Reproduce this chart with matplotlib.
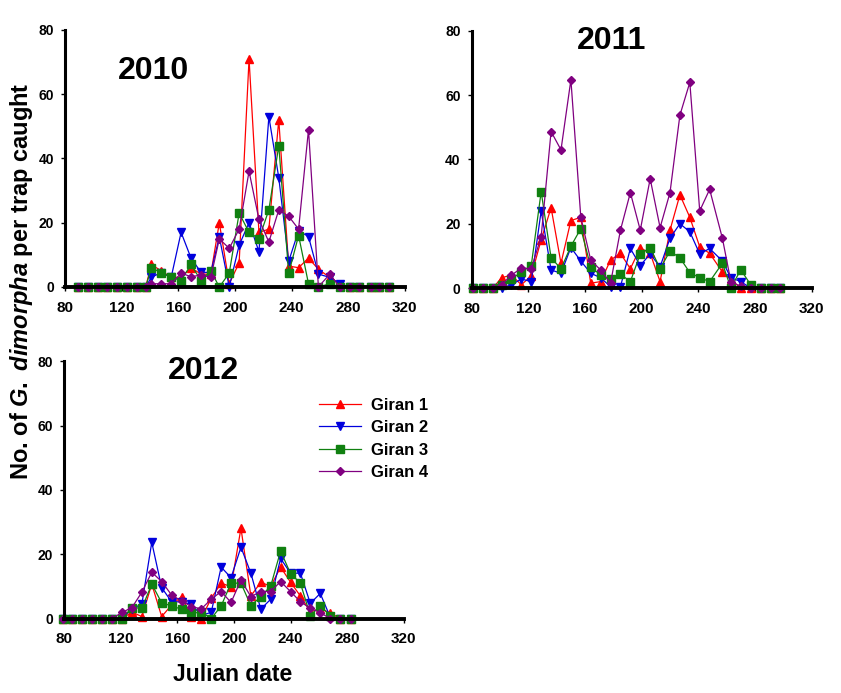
import matplotlib.pyplot as plt
from matplotlib.lines import Line2D

plt.rcParams['font.family'] = ['Liberation Sans', 'DejaVu Sans']
plt.rcParams['mathtext.fontset'] = 'custom'
plt.rcParams['mathtext.it'] = 'Liberation Sans:italic:bold'
plt.rcParams['mathtext.rm'] = 'Liberation Sans:bold'

series_names = ['Giran 1', 'Giran 2', 'Giran 3', 'Giran 4']
colors = ['#ff0000', '#0000dd', '#108010', '#800080']
markers = ['^', 'v', 's', 'D']

# 2010
d2010 = [89, 96, 103, 110, 117, 124, 131, 137, 141, 148, 155, 162, 169, 176, 183, 189,
         196, 203, 210, 217, 224, 231, 238, 245, 252, 259, 267, 274, 281, 288, 296, 302, 309]
g1_2010 = [0, 0, 0, 0, 0, 0, 0, 0, 7, 5, 3, 3, 6, 4, 4, 20,
           1, 7.5, 71, 17, 18, 52, 6.5, 6, 9, 5.5, 3, 1, 0, 0, 0, 0, 0]
g2_2010 = [0, 0, 0, 0, 0, 0, 0, 0, 3, 4.5, 3, 17, 9, 4.6, 4.5, 15.6,
           0, 13, 20, 11, 53, 34, 8, 17.5, 15.7, 4, 3, 1, 0, 0, 0, 0, 0]
g3_2010 = [0, 0, 0, 0, 0, 0, 0, 0, 6, 4.4, 3, 2, 7, 2, 5, 0,
           4.3, 23, 17, 15, 24, 44, 4.3, 16, 1, 0, 1, 0, 0, 0, 0, 0, 0]
g4_2010 = [0, 0, 0, 0, 0, 0, 0, 0, 1, 1, 1, 4.3, 3.2, 3.7, 3, 15,
           12, 18, 36, 21, 14, 24, 22, 18, 49, 0, 4, 0, 0, 0, 0, 0, 0]

# 2011
d2011 = [81, 88, 95, 101, 108, 115, 122, 129, 136, 143, 150, 157, 164, 171, 178, 185,
         192, 199, 206, 213, 220, 227, 234, 241, 248, 257, 263, 270, 277, 284, 291, 298]
g1_2011 = [0, 0, 0, 3.2, 4, 1, 3.8, 15, 25, 7.7, 21, 22, 1.5, 2, 8.7, 10.8,
           6, 12.5, 10.8, 2, 18, 29, 22, 12.8, 10.8, 5, 2.6, 0, 0, 0, 0, 0]
g2_2011 = [0, 0, 0, 0, 1, 2.8, 2, 24, 5.6, 4.6, 12.6, 8.4, 4.6, 3.2, 0.4, 0.4,
           12.3, 7, 10.6, 6.6, 15.5, 20, 17.5, 10.6, 12.3, 8.4, 3.2, 2, 0, 0, 0, 0]
g3_2011 = [0, 0, 0, 1, 2.8, 5, 7, 30, 9.4, 6, 13, 18.5, 6.6, 4, 2.7, 4.3,
           2, 10.6, 12.6, 6, 11.5, 9.4, 4.8, 3.2, 2, 7.7, 0, 5.7, 1, 0, 0, 0]
g4_2011 = [0, 0, 0, 1, 4, 6.2, 6, 16, 48.7, 43, 64.8, 22, 8.7, 5.6, 1.5, 18,
           29.7, 18, 34, 18.8, 29.7, 53.8, 64, 24, 30.7, 15.5, 2, 0.5, 0, 0, 0, 0]

# 2012
d2012 = [79, 86, 93, 100, 107, 114, 121, 128, 135, 142, 149, 156, 163, 170, 177, 184,
         191, 198, 205, 212, 219, 226, 233, 240, 247, 254, 261, 268, 275, 283]
g1_2012 = [0, 0, 0, 0, 0, 0, 0, 2, 0.6, 10.7, 0.6, 4.2, 6.8, 0.6, 0, 6.3,
           11, 9.9, 28.1, 7, 11.3, 10, 16, 11.3, 7, 2.1, 3, 1.8, 0, 0]
g2_2012 = [0, 0, 0, 0, 0, 0, 0, 3, 4.5, 23.7, 9.6, 5.2, 5.2, 4.4, 1, 1.9,
           16, 12.7, 22.2, 14.1, 2.9, 6, 18.7, 14.1, 14.1, 4.7, 7.8, 0.5, 0, 0]
g3_2012 = [0, 0, 0, 0, 0, 0, 0, 3.4, 3.2, 10.7, 4.9, 3.9, 2.9, 1.6, 2, 0,
           3.9, 11, 11, 4, 6.8, 10.1, 21, 14, 11, 0.9, 4, 0.9, 0, 0]
g4_2012 = [0, 0, 0, 0, 0, 0, 1.9, 3.4, 8.2, 14.4, 11.5, 7.3, 5.5, 3.7, 3, 6,
           8.4, 5, 12, 6.8, 8.4, 8.4, 11.5, 8.4, 5.2, 3.2, 1.8, 0, 0, 0]

x_ticks = [80, 120, 160, 200, 240, 280, 320]
y_ticks = [0, 20, 40, 60, 80]

fig = plt.figure(figsize=(8.41, 6.93), dpi=100)

panels = [
    ('2010', [0.0773, 0.5859, 0.404, 0.3709], d2010, [g1_2010, g2_2010, g3_2010, g4_2010], (0.26, 0.84)),
    ('2011', [0.561, 0.5844, 0.404, 0.3709], d2011, [g1_2011, g2_2011, g3_2011, g4_2011], (0.41, 0.96)),
    ('2012', [0.0761, 0.1075, 0.404, 0.3709], d2012, [g1_2012, g2_2012, g3_2012, g4_2012], (0.41, 0.962)),
]

for title, rect, dates, vals, tpos in panels:
    ax = fig.add_axes(rect)
    for v, c, m in zip(vals, colors, markers):
        ms = 4.2 if m == 'D' else 5.2
        ax.plot(dates, v, color=c, marker=m, markersize=ms, linewidth=0.9,
                markeredgecolor=c, clip_on=False)
    ax.set_xlim(80, 320)
    ax.set_ylim(0, 80)
    ax.set_xticks(x_ticks)
    ax.set_yticks(y_ticks)
    ax.spines['top'].set_visible(False)
    ax.spines['right'].set_visible(False)
    ax.spines['left'].set_linewidth(2.2)
    ax.spines['bottom'].set_linewidth(2.8)
    ax.tick_params(axis='x', direction='out', length=3, width=1, labelsize=11, pad=7)
    ax.tick_params(axis='y', direction='out', length=3, width=1, labelsize=10, pad=5)
    for lab in ax.get_xticklabels() + ax.get_yticklabels():
        lab.set_fontweight('bold')
    ax.text(tpos[0], tpos[1], title, transform=ax.transAxes, ha='center', va='center',
            fontsize=23, fontweight='bold')

fig.text(0.025, 0.594, r'No. of $\mathit{G.\ dimorpha}$ per trap caught', rotation=90,
         ha='center', va='center', fontsize=17, fontweight='bold')
fig.text(0.2765, 0.026, 'Julian date', ha='center', va='center', fontsize=16.5, fontweight='bold')

handles = [Line2D([], [], color=c, marker=m, markersize=4.2 if m == 'D' else 5.2, linewidth=0.9)
           for c, m in zip(colors, markers)]
leg = fig.legend(handles, series_names, loc='upper left', bbox_to_anchor=(0.362, 0.448),
                 frameon=False, handlelength=2.5, handletextpad=0.6, labelspacing=0.45,
                 prop={'weight': 'bold', 'size': 12})

fig.savefig('out.png', dpi=100)
